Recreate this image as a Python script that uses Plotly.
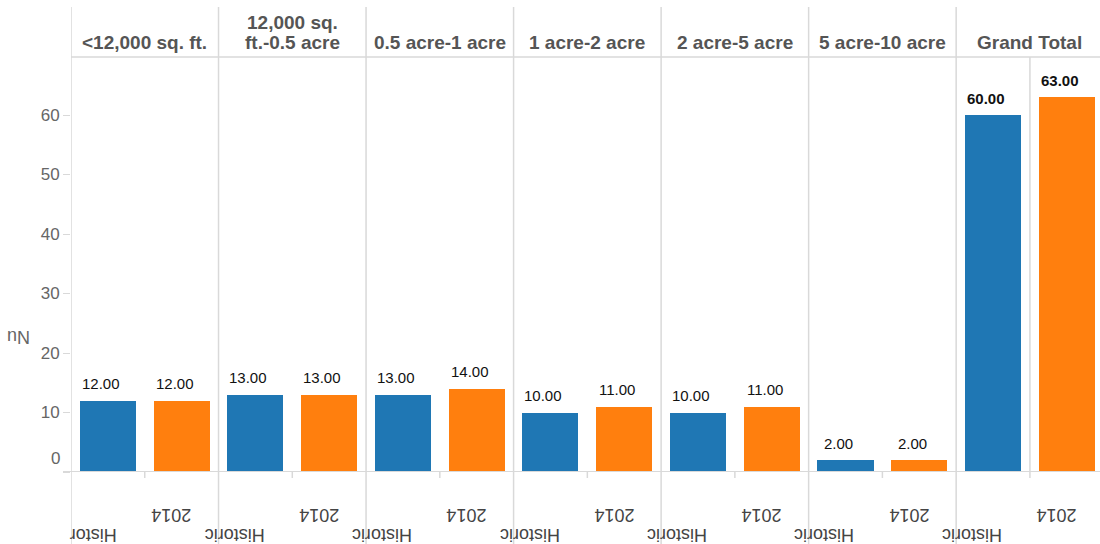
import plotly.graph_objects as go

# Lot-size bands (column panes) and the two periods drawn in each pane
categories = ["<12,000 sq. ft.", "12,000 sq.\nft.-0.5 acre", "0.5 acre-1 acre",
              "1 acre-2 acre", "2 acre-5 acre", "5 acre-10 acre", "Grand Total"]
periods = ["Historic", "2014"]
historic = [12, 13, 13, 10, 10, 2, 60]
y2014 = [12, 13, 14, 11, 11, 2, 63]
y_ticks = [0, 10, 20, 30, 40, 50, 60]
y_title = "Nu"

BLUE = "#1f77b4"
ORANGE = "#ff7f0e"
LINE = "#d9d9d9"
FONT = "Liberation Sans, Arial, sans-serif"

W, H = 1100, 544
TOP, BOTTOM = 57, 472          # plot area in pixels
PLOT_H = BOTTOM - TOP
PLOT_W = W - 71
Y_MAX = PLOT_H / 5.95          # ~5.95 px per unit


def py(pix):
    """pixel row -> paper y"""
    return (BOTTOM - pix) / PLOT_H


n = len(categories)
x_hist = [2 * i for i in range(n)]
x_2014 = [2 * i + 1 for i in range(n)]

fig = go.Figure()
fig.add_trace(go.Bar(x=x_hist, y=historic, marker_color=BLUE, width=0.76,
                     marker_line_width=0, name=periods[0], hoverinfo="y"))
fig.add_trace(go.Bar(x=x_2014, y=y2014, marker_color=ORANGE, width=0.76,
                     marker_line_width=0, name=periods[1], hoverinfo="y"))

ann = []
shapes = []

# value labels above the bars
for i in range(n):
    bold = categories[i] == "Grand Total"
    for xv, v in ((x_hist[i], historic[i]), (x_2014[i], y2014[i])):
        txt = f"{v:.2f}"
        ann.append(dict(x=xv, y=v, xref="x", yref="y", text=f"<b>{txt}</b>" if bold else txt,
                        showarrow=False, xanchor="center", yanchor="middle",
                        xshift=-7, yshift=17,
                        font=dict(family=FONT, size=15, color="#111111")))

# column headers (bottom-aligned, tight line spacing)
for i, cat in enumerate(categories):
    lines = cat.split("\n")
    for k, line in enumerate(reversed(lines)):
        ann.append(dict(x=2 * i + 0.5, y=py(42 - 19.5 * k), xref="x", yref="paper",
                        text=f"<b>{line}</b>", showarrow=False,
                        xanchor="center", yanchor="middle",
                        font=dict(family=FONT, size=19, color="#555555")))

# upside-down period labels under each bar
for i in range(n):
    for j, xv in enumerate((x_hist[i], x_2014[i])):
        label = periods[j]
        if i == 0 and j == 0:
            label = label[:6]   # leftmost label is cut off at the pane edge
        ann.append(dict(x=xv, y=py(515.5 if j == 1 else 535), xref="x", yref="paper",
                        text=label, showarrow=False, textangle=180,
                        xanchor="right", yanchor="middle", borderpad=0,
                        xshift=10 if j == 0 else 11,
                        font=dict(family=FONT, size=18, color="#444444")))

# zero tick label sits above its tick
ann.append(dict(x=0, y=0, xref="paper", yref="y", text="0", showarrow=False,
                xanchor="right", yanchor="middle", xshift=-9, yshift=14,
                font=dict(family=FONT, size=17, color="#666666")))

# axis title, rotated
ann.append(dict(x=-52 / PLOT_W, y=py(337), xref="paper", yref="paper",
                text=y_title, showarrow=False, textangle=180,
                xanchor="center", yanchor="middle",
                font=dict(family=FONT, size=18, color="#666666")))

# pane borders
for xv in [-0.5] + [2 * i + 1.5 for i in range(n - 1)]:
    shapes.append(dict(type="line", xref="x", x0=xv, x1=xv,
                       yref="paper", y0=py(H), y1=py(7),
                       line=dict(color=LINE, width=1.5)))
# divider inside the Grand Total pane
shapes.append(dict(type="line", xref="x", x0=2 * n - 1.5, x1=2 * n - 1.5,
                   yref="paper", y0=py(478), y1=1,
                   line=dict(color=LINE, width=1.5)))
# small ticks between the two bars of each band
for i in range(n - 1):
    shapes.append(dict(type="line", xref="x", x0=2 * i + 0.5, x1=2 * i + 0.5,
                       yref="paper", y0=py(478), y1=0,
                       line=dict(color=LINE, width=1.5)))
# header separator and zero baseline
shapes.append(dict(type="line", xref="paper", x0=0, x1=1, yref="paper", y0=1, y1=1,
                   line=dict(color=LINE, width=1.5)))
shapes.append(dict(type="line", xref="paper", x0=-8 / PLOT_W, x1=1, yref="y", y0=0, y1=0,
                   line=dict(color=LINE, width=2)))

fig.update_layout(
    width=W, height=H,
    margin=dict(l=71, r=0, t=TOP, b=H - BOTTOM, pad=0),
    paper_bgcolor="white", plot_bgcolor="white",
    showlegend=False, bargap=0,
    annotations=ann, shapes=shapes,
    xaxis=dict(range=[-0.5, 13.45], showticklabels=False, showgrid=False,
               zeroline=False, showline=False, ticks="", fixedrange=True),
    yaxis=dict(range=[0, Y_MAX], tickvals=y_ticks,
               ticktext=["" if t == 0 else str(t) for t in y_ticks],
               ticks="outside", ticklen=7, tickcolor=LINE, tickwidth=1,
               showgrid=False, zeroline=False, showline=False,
               tickfont=dict(family=FONT, size=17, color="#666666")),
)

fig.write_html("out.html")
